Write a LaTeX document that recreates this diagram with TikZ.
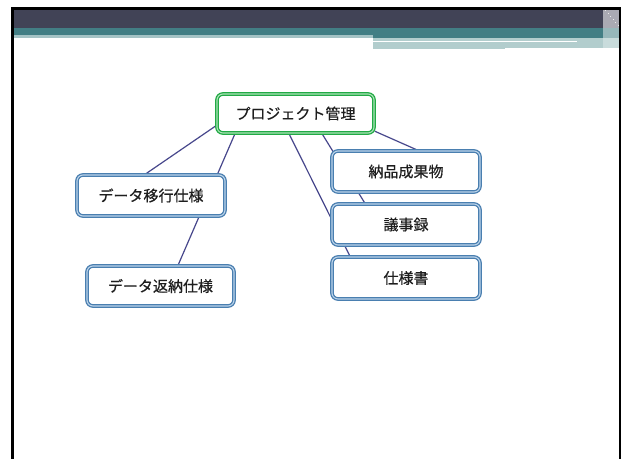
\documentclass[tikz,border=0pt]{standalone}
\usepackage{fontspec}
\newfontfamily\jpfont[FakeBold=0.5]{Noto Sans CJK JP}
\usetikzlibrary{backgrounds}
\definecolor{bandDark}{HTML}{414356}
\definecolor{bandTeal}{HTML}{427E84}
\definecolor{stripLight}{HTML}{A5C3C5}
\definecolor{bandLight}{HTML}{B2CDCD}
\definecolor{boxBlue}{HTML}{4A7FB0}
\definecolor{boxBlueIn}{HTML}{BBD3EA}
\definecolor{boxGreen}{HTML}{22AA45}
\definecolor{boxGreenIn}{HTML}{ABE2B8}
\definecolor{linkCol}{HTML}{47478C}
\definecolor{txtCol}{HTML}{1E1E1E}
\tikzset{
  topicbox/.style={draw=boxBlue, double=boxBlueIn, double distance=1.1pt, line width=1.3pt,
    fill=white, rounded corners=6pt, minimum width=148pt, minimum height=41pt,
    inner sep=0pt, font=\jpfont\fontsize{15}{18}\selectfont, text=txtCol},
  rootbox/.style={topicbox, draw=boxGreen, double=boxGreenIn},
  link/.style={draw=linkCol, line width=1.2pt}
}
\begin{document}
\begin{tikzpicture}[x=1pt,y=-1pt]
\useasboundingbox (0,0) rectangle (621,459);
\begin{pgfonlayer}{background}
\fill[white] (0,0) rectangle (621,459);
% header bands
\fill[black] (11,7) rectangle (621,10);
\fill[black] (11,7) rectangle (14,459);
\fill[black] (619,7) rectangle (621,459);
\fill[bandDark] (14,10) rectangle (619,28);
\fill[bandTeal] (14,28) rectangle (603,35);
\fill[stripLight] (14,35) rectangle (373,38);
\fill[bandTeal] (373,35) rectangle (603,38);
\fill[bandLight] (373,38) rectangle (603,49);
\fill[white] (373,41) rectangle (577,42.2);
\fill[white] (505,48) rectangle (612,49.2);
\fill[bandLight!70!white] (603,38) rectangle (619,48);
\fill[bandDark!45!white] (603,10) rectangle (619,28);
\fill[bandTeal!55!white] (603,28) rectangle (619,38);
\foreach \i in {0,...,5}{
  \fill[white!85!gray] (605+2.5*\i,10+3*\i) rectangle ++(1.2,1.2);
}
\end{pgfonlayer}
% nodes
\node[rootbox, minimum width=157pt, minimum height=39pt] (root) at (295.5,113.5) {プロジェクト管理};
\node[topicbox] (ikou) at (151,195.5) {データ移行仕様};
\node[topicbox, minimum width=147pt, minimum height=40pt] (hennou) at (160.5,286) {データ返納仕様};
\node[topicbox] (nouhin) at (406,171.5) {納品成果物};
\node[topicbox] (giji) at (406,224.5) {議事録};
\node[topicbox, minimum height=42pt] (shiyou) at (406,278) {仕様書};
% links behind boxes
\begin{pgfonlayer}{background}
\draw[link] ([xshift=0.5pt,yshift=8.5pt]root.south west) -- ([xshift=-6pt]ikou.north);
\draw[link] ([xshift=-60.5pt]root.south) -- ([xshift=17.5pt]hennou.north);
\draw[link] ([xshift=-6.5pt]root.south) -- ([xshift=-56pt]shiyou.north);
\draw[link] ([xshift=26.5pt]root.south) -- ([xshift=-41pt]giji.north);
\draw[link] ([yshift=2.5pt]root.south east) -- ([xshift=12pt]nouhin.north);
\end{pgfonlayer}
\end{tikzpicture}
\end{document}
